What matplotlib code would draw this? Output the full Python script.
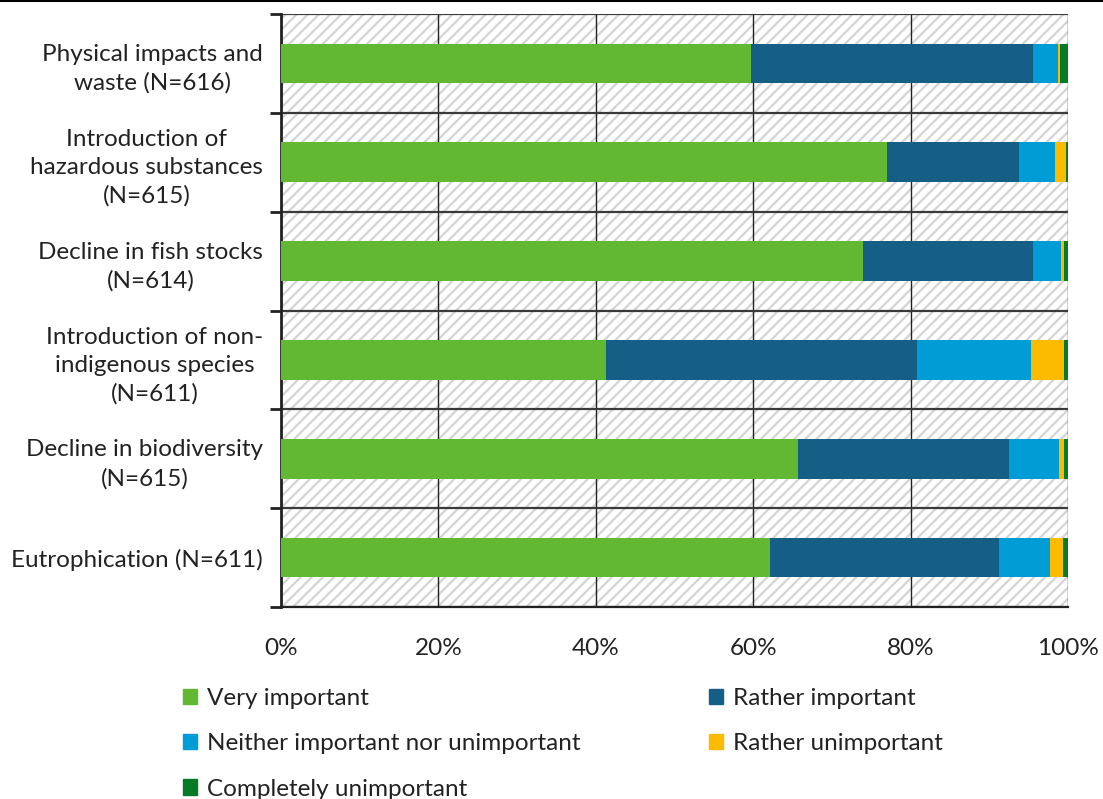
import numpy as np
import matplotlib
matplotlib.use("Agg")
import matplotlib.pyplot as plt
from matplotlib.patches import Patch, Rectangle
from matplotlib.lines import Line2D
from matplotlib.ticker import FuncFormatter, MultipleLocator, FixedLocator

categories = [
    "Physical impacts and\nwaste (N=616)",
    "Introduction of\nhazardous substances\n(N=615)",
    "Decline in fish stocks\n(N=614)",
    "Introduction of non-\nindigenous species\n(N=611)",
    "Decline in biodiversity\n(N=615)",
    "Eutrophication (N=611)",
]
series_names = ["Very important", "Rather important",
                "Neither important nor unimportant", "Rather unimportant",
                "Completely unimportant"]
very_important = [59.7, 77.0, 74.0, 41.3, 65.7, 62.1]
rather_important = [35.9, 16.8, 21.5, 39.5, 26.8, 29.1]
neither = [3.1, 4.6, 3.6, 14.5, 6.4, 6.5]
rather_unimportant = [0.3, 1.4, 0.4, 4.2, 0.6, 1.7]
completely_unimportant = [1.0, 0.2, 0.5, 0.5, 0.5, 0.6]
colors = ["#62B832", "#155E86", "#009CD6", "#FDBB00", "#077A27"]

plt.rcParams['font.family'] = ['Lato', 'DejaVu Sans']
plt.rcParams['hatch.linewidth'] = 1.6
plt.rcParams['hatch.color'] = '#D4D4D4'

FS = 17.5
fig = plt.figure(figsize=(11.03, 7.99), dpi=100)
W, H = 1103, 799
ax = fig.add_axes([281 / W, 1 - 607 / H, (1068 - 281) / W, (607 - 14) / H])

# hatched background
ax.add_patch(Rectangle((0, 0), 1, 1, transform=ax.transAxes, facecolor='white',
                       edgecolor='#D4D4D4', hatch='///', linewidth=0, zorder=0))

ys = np.arange(len(categories))
data = [very_important, rather_important, neither, rather_unimportant, completely_unimportant]
left = np.zeros(len(categories))
for vals, c, name in zip(data, colors, series_names):
    v = np.array(vals)
    ax.barh(ys, v, left=left, height=0.4, color=c, label=name, zorder=3, linewidth=0)
    left += v

ax.set_xlim(0, 100)
ax.set_ylim(len(categories) - 0.5, -0.5)
ax.xaxis.set_major_locator(MultipleLocator(20))
ax.xaxis.set_major_formatter(FuncFormatter(lambda x, p: f"{int(round(x))}%"))
ax.tick_params(axis='x', length=0, pad=22, labelsize=FS, colors='#222222')
ax.set_yticks(ys)
ax.set_yticklabels(categories, fontsize=FS, multialignment='center', color='#222222',
                   linespacing=1.42)
ax.yaxis.set_minor_locator(FixedLocator(np.arange(-0.5, len(categories), 1.0)))
ax.tick_params(axis='y', which='major', length=0, pad=13)
ax.tick_params(axis='y', which='minor', length=8, width=2, color='#222222', direction='out')

ax.grid(axis='x', which='major', color='#222222', linewidth=1.0, zorder=1)
ax.grid(axis='y', which='minor', color='#3a3a3a', linewidth=1.6, zorder=1)
ax.set_axisbelow(True)

for s in ['top', 'right']:
    ax.spines[s].set_visible(False)
ax.spines['left'].set_linewidth(2)
ax.spines['left'].set_color('#222222')
ax.spines['bottom'].set_linewidth(1.6)
ax.spines['bottom'].set_color('#222222')

handles = [Patch(color=colors[i]) for i in [0, 2, 4, 1, 3]]
labels = [series_names[i] for i in [0, 2, 4, 1, 3]]
leg = fig.legend(handles, labels, ncol=2, loc='upper left',
                 bbox_to_anchor=(183 / W, 1 - 688 / H), frameon=False,
                 fontsize=FS, handlelength=0.58, handleheight=0.58, handletextpad=0.4,
                 labelspacing=1.0, columnspacing=5.3, borderaxespad=0, borderpad=0)
for t in leg.get_texts():
    t.set_color('#222222')

fig.add_artist(Line2D([0, 1], [1 - 1 / H, 1 - 1 / H], color='black', linewidth=1.5,
                      transform=fig.transFigure))

fig.savefig("out.png", dpi=100)
